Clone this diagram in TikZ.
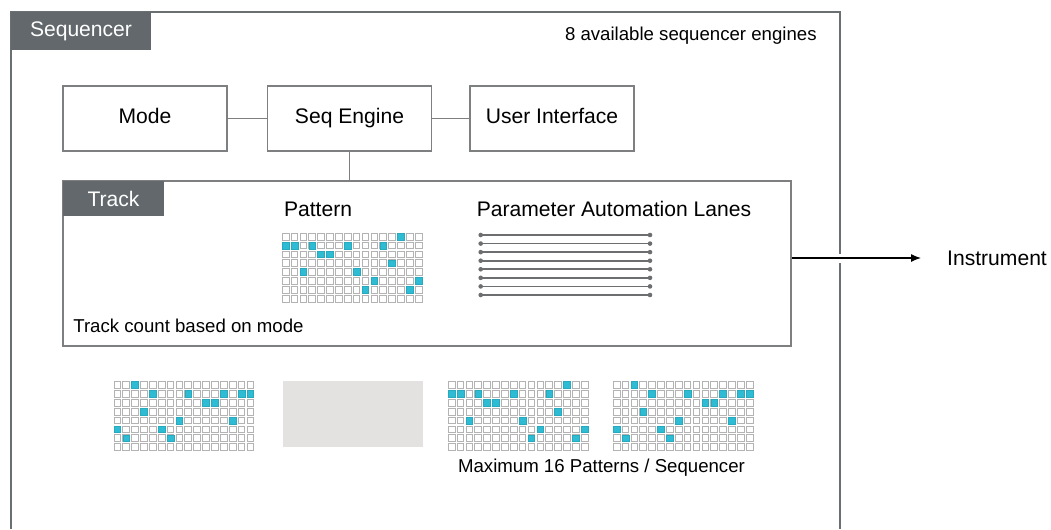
\documentclass[tikz,border=0pt]{standalone}
\usepackage{fontspec}
\setmainfont{Liberation Sans}
\usetikzlibrary{arrows.meta}
\definecolor{tabgray}{HTML}{62686B}
\definecolor{framegray}{HTML}{6A6F72}
\definecolor{boxgray}{HTML}{7D7F80}
\definecolor{cellgray}{HTML}{B3B3B3}
\definecolor{hitcyan}{HTML}{2DBCD3}
\definecolor{lanegray}{HTML}{6C6E70}
\definecolor{emptygray}{HTML}{E3E2E0}
% 16x8 pattern grid: x, y, filled cells row/col
\newcommand\patgrid[3]{%
  \foreach \r in {0,...,7}
    \foreach \c in {0,...,15}
      \draw[cell] (#1+\c*8.87,#2+\r*8.87) rectangle +(6.7,6.7);
  \foreach \r/\c in {#3}
    \filldraw[hit] (#1+\c*8.87,#2+\r*8.87) rectangle +(6.7,6.7);
}
\begin{document}
\begin{tikzpicture}[x=0.2mm, y=-0.2mm, font=\fontsize{12}{14}\selectfont,
  box/.style={draw=boxgray, line width=1pt, minimum width=32.8mm, minimum height=13mm,
    text height=8.6pt, text depth=2.6pt},
  tab/.style={text=white, inner sep=0pt},
  small/.style={font=\fontsize{10.6}{13}\selectfont},
  link/.style={draw=boxgray, line width=1pt},
  cell/.style={draw=cellgray, line width=0.55pt},
  hit/.style={fill=hitcyan, draw=hitcyan!90!black, line width=0.4pt},
  lane/.style={draw=lanegray, line width=0.9pt}]
  \useasboundingbox (0,0) rectangle (1051,529);
  % sequencer frame, cut off at the bottom
  \draw[framegray, line width=1.5pt] (11,529) -- (11,12) -- (840,12) -- (840,529);
  \fill[tabgray] (11,12) rectangle (151,50);
  \node[tab] (seqtab) at (81,31) {Sequencer};
  \node[small, anchor=east, inner sep=0pt] (engines) at (817,36) {8 available sequencer engines};

  \node[box] (mode) at (145,118.5) {Mode};
  \node[box] (seq) at (349.5,118.5) {Seq Engine};
  \node[box] (ui) at (552,118.5) {User Interface};

  % track
  \node[box, minimum width=145.6mm, minimum height=33mm, text height=, text depth=] (track) at (427,263.5) {};
  \fill[tabgray] (63,181) rectangle (164,216);
  \node[tab] (tracktab) at (113.5,198.5) {Track};
  \draw[link] (mode) -- (seq) -- (ui);
  \draw[link] (seq) -- (seq |- track.north);

  \node (pattern) at (318,209) {Pattern};
  \node (lanes) at (614,209) {Parameter Automation Lanes};
  \patgrid{282.3}{233.3}{0/13, 1/0, 1/1, 1/3, 1/7, 1/11, 2/4, 2/5, 3/12, 4/2, 4/8, 5/10, 5/15, 6/9, 6/14}
  \foreach \i in {0,...,7} {
    \draw[lane] (480.7,235+\i*8.57) -- (650,235+\i*8.57);
    \fill[lanegray] (480.7,235+\i*8.57) circle (2.3) (650,235+\i*8.57) circle (2.3);
  }
  \node[small, anchor=west, inner sep=0pt] (count) at (73,326) {Track count based on mode};

  % output
  \coordinate (arrowend) at (921,258);
  \draw[white, line width=2.6pt] (840,254) -- (840,263);
  \draw[line width=0.7pt, -{Latex[length=2mm, width=1.6mm]}] (track.east |- arrowend) -- (arrowend);
  \node[anchor=west] (inst) at (941,258) {Instrument};

  % stored patterns
  \patgrid{114}{381.7}{0/2, 1/4, 1/8, 1/12, 1/14, 1/15, 2/10, 2/11, 3/3, 4/7, 4/13, 5/0, 5/5, 6/1, 6/6}
  \fill[emptygray] (283,381) rectangle (423,447);
  \patgrid{448.3}{381.7}{0/13, 1/0, 1/1, 1/3, 1/7, 1/11, 2/4, 2/5, 3/12, 4/2, 4/8, 5/10, 5/15, 6/9, 6/14}
  \patgrid{613.3}{381.7}{0/2, 1/4, 1/8, 1/12, 1/14, 1/15, 2/10, 2/11, 3/3, 4/7, 4/13, 5/0, 5/5, 6/1, 6/6}
  \node[small] (maxpat) at (601.5,468) {Maximum 16 Patterns / Sequencer};
\end{tikzpicture}
\end{document}
